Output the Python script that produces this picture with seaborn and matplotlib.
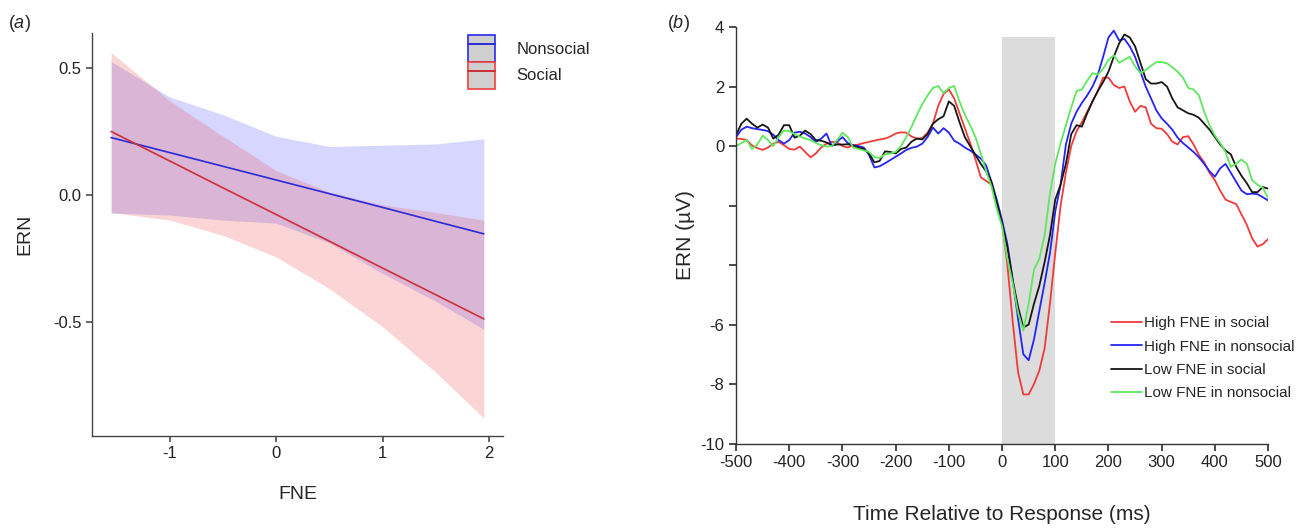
import numpy as np
import pandas as pd
import matplotlib
matplotlib.use("Agg")
import matplotlib.pyplot as plt
import seaborn as sns
from matplotlib.patches import Patch
from matplotlib.lines import Line2D

# DATA

# panel (a): regression of ERN on FNE, with confidence bands
FNE_X = [-1.55, -1.0, -0.5, 0.0, 0.5, 1.0, 1.5, 1.95]
NONSOC_FIT = [0.225, 0.166, 0.112, 0.058, 0.004, -0.050, -0.105, -0.154]
NONSOC_LO = [-0.072, -0.080, -0.100, -0.112, -0.190, -0.310, -0.420, -0.530]
NONSOC_HI = [0.525, 0.385, 0.315, 0.230, 0.190, 0.195, 0.200, 0.220]
SOC_FIT = [0.249, 0.133, 0.027, -0.078, -0.183, -0.289, -0.394, -0.489]
SOC_LO = [-0.070, -0.100, -0.160, -0.245, -0.370, -0.520, -0.700, -0.880]
SOC_HI = [0.560, 0.370, 0.230, 0.095, 0.010, -0.040, -0.070, -0.100]

# panel (b): grand average waveforms, 10 ms steps from -500 to 500
TIME_MS = list(range(-500, 501, 10))
HIGH_SOCIAL = [
    0.25, 0.24, 0.20, 0.02, -0.07, -0.13, -0.05, 0.08, 0.14, 0.03,
    -0.10, -0.12, -0.02, -0.20, -0.38, -0.25, -0.05, 0.08, 0.14, 0.12,
    0.00, -0.05, 0.02, 0.05, 0.10, 0.14, 0.18, 0.22, 0.25, 0.32,
    0.42, 0.46, 0.45, 0.32, 0.25, 0.27, 0.45, 0.75, 1.35, 1.75,
    1.90, 1.60, 1.10, 0.60, 0.10, -0.45, -1.05, -1.17, -1.30, -1.90,
    -2.60, -4.00, -5.90, -7.60, -8.35, -8.35, -8.00, -7.55, -6.80, -5.30,
    -3.60, -2.00, -0.90, 0.00, 0.50, 0.80, 1.15, 1.50, 1.85, 2.30,
    2.30, 2.05, 1.95, 2.00, 1.50, 1.15, 1.35, 1.30, 0.75, 0.60,
    0.58, 0.40, 0.15, 0.05, 0.30, 0.33, 0.05, -0.30, -0.55, -0.90,
    -1.15, -1.50, -1.80, -1.88, -1.95, -2.30, -2.65, -3.10, -3.38, -3.30,
    -3.13]
HIGH_NONSOCIAL = [
    0.30, 0.55, 0.65, 0.60, 0.57, 0.54, 0.50, 0.38, 0.20, 0.08,
    0.20, 0.45, 0.48, 0.42, 0.30, 0.14, 0.25, 0.42, 0.00, 0.15,
    0.30, 0.10, 0.03, 0.00, -0.05, -0.30, -0.72, -0.68, -0.58, -0.47,
    -0.36, -0.25, -0.13, -0.06, -0.02, 0.08, 0.30, 0.62, 0.42, 0.60,
    0.45, 0.18, 0.08, -0.05, -0.15, -0.28, -0.42, -0.65, -1.20, -1.80,
    -2.50, -3.30, -4.50, -5.80, -7.00, -7.20, -6.50, -5.55, -4.60, -3.60,
    -2.20, -1.30, 0.05, 0.75, 1.15, 1.45, 1.70, 2.00, 2.40, 3.00,
    3.65, 3.88, 3.55, 3.60, 3.35, 3.00, 2.50, 2.00, 1.60, 1.20,
    0.93, 0.75, 0.55, 0.28, 0.10, -0.05, -0.20, -0.38, -0.60, -0.85,
    -1.03, -0.75, -0.60, -0.90, -1.20, -1.50, -1.62, -1.60, -1.62, -1.72,
    -1.83]
LOW_SOCIAL = [
    0.37, 0.75, 0.92, 0.75, 0.62, 0.72, 0.62, 0.25, 0.38, 0.70,
    0.70, 0.28, 0.35, 0.52, 0.40, 0.20, 0.18, 0.12, 0.02, 0.05,
    0.05, 0.06, 0.02, -0.05, -0.10, -0.25, -0.55, -0.50, -0.18, -0.20,
    -0.25, -0.10, -0.05, 0.15, 0.25, 0.22, 0.40, 0.75, 0.90, 1.00,
    1.50, 1.35, 0.80, 0.30, 0.00, -0.30, -0.60, -0.85, -1.20, -1.90,
    -2.60, -3.40, -4.50, -5.40, -6.10, -6.00, -5.30, -4.70, -3.90, -3.00,
    -1.80, -1.30, -0.60, 0.40, 0.70, 0.65, 1.10, 1.50, 1.85, 2.15,
    2.50, 3.00, 3.45, 3.75, 3.65, 3.35, 2.80, 2.25, 2.10, 2.10,
    2.15, 2.00, 1.60, 1.30, 1.20, 1.10, 1.05, 0.95, 0.75, 0.55,
    0.30, 0.05, -0.15, -0.28, -0.70, -1.00, -1.25, -1.55, -1.55, -1.38,
    -1.43]
LOW_NONSOCIAL = [
    0.00, 0.10, 0.20, -0.10, 0.05, 0.35, 0.20, 0.00, 0.30, 0.52,
    0.50, 0.40, 0.32, 0.25, 0.20, 0.10, 0.03, -0.02, 0.00, 0.20,
    0.45, 0.30, -0.05, -0.10, -0.15, -0.20, -0.38, -0.40, -0.28, -0.25,
    -0.20, 0.00, 0.30, 0.65, 1.05, 1.40, 1.70, 1.95, 2.02, 1.78,
    1.95, 2.02, 1.50, 1.05, 0.70, 0.30, -0.25, -0.85, -1.35, -2.10,
    -2.70, -3.80, -4.60, -5.60, -6.20, -5.30, -4.15, -3.80, -3.00, -1.60,
    -0.60, 0.10, 0.70, 1.30, 1.85, 1.90, 2.20, 2.45, 2.40, 2.60,
    2.90, 3.05, 2.80, 2.90, 3.00, 2.68, 2.45, 2.55, 2.70, 2.82,
    2.82, 2.78, 2.65, 2.50, 2.30, 1.95, 1.90, 1.70, 1.15, 0.70,
    0.35, 0.10, -0.20, -0.70, -0.60, -0.45, -0.60, -1.15, -1.30, -1.40,
    -1.75]

ERP_LABELS = ["High FNE in social", "High FNE in nonsocial",
              "Low FNE in social", "Low FNE in nonsocial"]
ERP_COLORS = ["#f23a3a", "#2424f5", "#161616", "#5ee85e"]
ERN_WINDOW = (0, 100)
B_YTICKS = [4, 2, 0, -2, -4, -6, -8, -10]
B_YTICKLABELS = ["4", "2", "0", "", "", "-6", "-8", "-10"]

# STYLE

sns.set_theme(style="ticks")
plt.rcParams["font.family"] = ["Liberation Sans", "DejaVu Sans"]
plt.rcParams["axes.unicode_minus"] = False
plt.rcParams["mathtext.fontset"] = "custom"
plt.rcParams["mathtext.it"] = "Liberation Sans:italic"
plt.rcParams["mathtext.rm"] = "Liberation Sans"

fig = plt.figure(figsize=(12.97, 5.30), dpi=100)
ax_a = fig.add_axes([0.0709, 0.1774, 0.3169, 0.7604])
ax_b = fig.add_axes([0.5675, 0.1632, 0.4102, 0.7858])

# PANEL (a)

fit_df = pd.DataFrame({
    "FNE": FNE_X * 2,
    "ERN": NONSOC_FIT + SOC_FIT,
    "group": ["Nonsocial"] * len(FNE_X) + ["Social"] * len(FNE_X),
})
a_colors = {"Nonsocial": "#2a2ad6", "Social": "#cc3038"}

ax_a.fill_between(FNE_X, NONSOC_LO, NONSOC_HI, color="#0000ff", alpha=0.16, lw=0)
ax_a.fill_between(FNE_X, SOC_LO, SOC_HI, color="#ee4444", alpha=0.22, lw=0)
sns.lineplot(data=fit_df, x="FNE", y="ERN", hue="group", palette=a_colors,
             linewidth=1.2, legend=False, ax=ax_a)

ax_a.set_xlim(-1.73, 2.13)
ax_a.set_ylim(-0.95, 0.637)
ax_a.set_xticks([-1, 0, 1, 2])
ax_a.set_xticklabels(["-1", "0", "1", "2"])
ax_a.set_yticks([0.5, 0.0, -0.5])
ax_a.set_yticklabels(["0.5", "0.0", "-0.5"])
ax_a.tick_params(labelsize=12, length=4, color="#555555", labelcolor="#222222")
ax_a.set_xlabel("FNE", fontsize=14, labelpad=18)
ax_a.set_ylabel("ERN", fontsize=14, labelpad=14)
sns.despine(ax=ax_a)
for s in ["left", "bottom"]:
    ax_a.spines[s].set_color("#444444")
    ax_a.spines[s].set_linewidth(1.0)

leg_handles = [
    (Patch(facecolor="#cfcfcf", edgecolor="#2a2af0", lw=1.2),
     Line2D([], [], color="#2a2ad6", lw=1.4)),
    (Patch(facecolor="#cfcfcf", edgecolor="#f04040", lw=1.2),
     Line2D([], [], color="#cc3038", lw=1.4)),
]
ax_a.legend(leg_handles, ["Nonsocial", "Social"], loc="upper left",
            bbox_to_anchor=(0.915, 0.995), frameon=False, fontsize=12,
            handlelength=1.6, handleheight=2.1, labelspacing=0.0,
            handletextpad=1.3, borderpad=0, borderaxespad=0)

fig.text(0.006, 0.955, r"($\it{a}$)", fontsize=13, va="center")

# PANEL (b)

erp_df = pd.DataFrame({
    "time": TIME_MS * 4,
    "amp": HIGH_SOCIAL + HIGH_NONSOCIAL + LOW_SOCIAL + LOW_NONSOCIAL,
    "cond": sum([[lab] * len(TIME_MS) for lab in ERP_LABELS], []),
})

ax_b.axvspan(ERN_WINDOW[0], ERN_WINDOW[1], ymin=0, ymax=(3.65 + 10) / 14,
             color="#dcdcdc", lw=0, zorder=0)
sns.lineplot(data=erp_df, x="time", y="amp", hue="cond", hue_order=ERP_LABELS,
             palette=ERP_COLORS, linewidth=1.3, estimator=None, ax=ax_b)

ax_b.set_xlim(-500, 500)
ax_b.set_ylim(-10, 4)
ax_b.set_xticks(list(range(-500, 501, 100)))
ax_b.set_yticks(B_YTICKS)
ax_b.set_yticklabels(B_YTICKLABELS)
ax_b.tick_params(labelsize=12, length=5, color="#333333", labelcolor="#222222")
ax_b.set_xlabel("Time Relative to Response (ms)", fontsize=15, labelpad=25)
ax_b.set_ylabel("ERN (\u00b5V)", fontsize=15, labelpad=4)
sns.despine(ax=ax_b)
for s in ["left", "bottom"]:
    ax_b.spines[s].set_color("#333333")
    ax_b.spines[s].set_linewidth(1.0)

h, l = ax_b.get_legend_handles_labels()
ax_b.legend(h, l, loc="upper left", bbox_to_anchor=(0.705, 0.306),
            frameon=False, fontsize=11,
            handlelength=2.0, handletextpad=0.15, labelspacing=0.62,
            borderpad=0, borderaxespad=0)

fig.text(0.514, 0.955, r"($\it{b}$)", fontsize=13, va="center")

plt.savefig("out.png", dpi=100)
